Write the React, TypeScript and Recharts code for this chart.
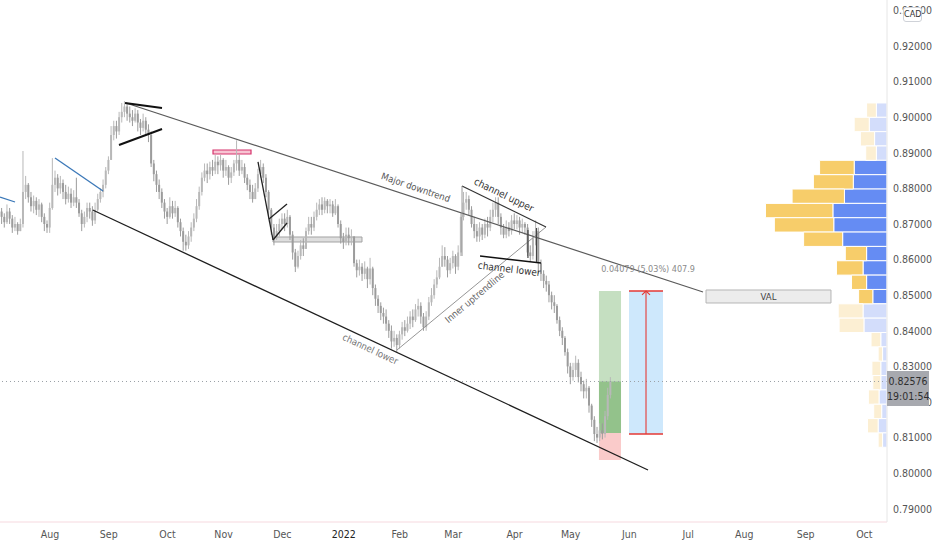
import React from "react";
import {
  ComposedChart,
  Bar,
  Scatter,
  XAxis,
  YAxis,
  ReferenceLine,
  ReferenceArea,
} from "recharts";

const FONT = "'Liberation Sans Narrow', 'DejaVu Sans Condensed', Roboto, sans-serif";

// daily bars, index 0 = 2 Aug 2021 (one step per trading day), prices x 10000
const firstBar = -18;
const firstOpen = 8735;
const closes = [
  // Jul
  8720, 8705, 8735, 8715, 8690, 8700, 8680, 8700, 8790, 8810, 8775, 8750, 8765, 8740, 8755, 8720, 8700, 8690,
  // Aug
  8745, 8810, 8830, 8800, 8815, 8790, 8770, 8785, 8760, 8775, 8760, 8730, 8700, 8720, 8745, 8735, 8710, 8740, 8770, 8790, 8810, 8850,
  // Sep
  8880, 8950, 8975, 8960, 9000, 9015, 9030, 9010, 9000, 8990, 9010, 8985, 8970, 8990, 8965, 8950, 8870, 8840, 8810, 8790, 8760, 8735,
  // Oct
  8720, 8750, 8730, 8745, 8705, 8680, 8650, 8640, 8665, 8690, 8715, 8750, 8790, 8830, 8850, 8840, 8860, 8850, 8875, 8865, 8880,
  // Nov
  8850, 8860, 8830, 8845, 8870, 8880, 8850, 8860, 8830, 8810, 8790, 8770, 8800, 8840, 8860, 8830, 8790, 8740, 8690, 8660, 8680, 8700,
  // Dec
  8715, 8700, 8720, 8670, 8620, 8580, 8610, 8640, 8630, 8680, 8700, 8690, 8720, 8740, 8755, 8740, 8765, 8750, 8755, 8730, 8750, 8700, 8660,
  // Jan
  8650, 8670, 8660, 8665, 8590, 8570, 8580, 8560, 8575, 8545, 8575, 8520, 8490, 8470, 8450, 8440, 8420, 8400, 8370, 8380, 8360,
  // Feb
  8390, 8410, 8400, 8420, 8440, 8430, 8460, 8470, 8440, 8410, 8440, 8480, 8500, 8530, 8550, 8580, 8610, 8600, 8570, 8590,
  // Mar
  8610, 8580, 8620, 8720, 8760, 8770, 8740, 8700, 8680, 8665, 8690, 8670, 8700, 8690, 8720, 8740, 8760, 8720, 8690, 8670, 8690, 8680, 8710,
  // Apr
  8700, 8710, 8690, 8700, 8690, 8620, 8610, 8660, 8680, 8590, 8560, 8540, 8530, 8500, 8480, 8470, 8430, 8400, 8380, 8340, 8300,
  // May
  8270, 8290, 8310, 8270, 8250, 8230, 8240, 8190, 8150, 8110, 8100, 8120, 8110, 8160, 8220, 8258,
];
const highs = [
  8745, 8730, 8755, 8745, 8725, 8720, 8705, 8715, 8905, 8835, 8815, 8790, 8780, 8775, 8770, 8760, 8730, 8710,
  8760, 8885, 8850, 8840, 8835, 8825, 8810, 8805, 8800, 8795, 8830, 8770, 8740, 8735, 8760, 8760, 8750, 8760, 8785, 8800, 8825, 8860,
  8890, 8975, 8990, 8990, 9015, 9040, 9045, 9040, 9030, 9020, 9025, 9020, 8995, 9010, 9000, 8980, 8960, 8880, 8850, 8825, 8800, 8770,
  8745, 8775, 8765, 8765, 8750, 8715, 8690, 8670, 8680, 8705, 8730, 8770, 8805, 8845, 8870, 8870, 8875, 8880, 8895, 8890, 8895,
  8885, 8880, 8865, 8860, 8880, 8935, 8895, 8880, 8870, 8840, 8825, 8810, 8815, 8855, 8880, 8870, 8840, 8795, 8745, 8700, 8700, 8715,
  8730, 8730, 8740, 8725, 8680, 8630, 8625, 8655, 8660, 8690, 8720, 8720, 8735, 8760, 8770, 8775, 8775, 8770, 8770, 8765, 8770, 8755, 8710,
  8675, 8690, 8690, 8685, 8665, 8600, 8600, 8590, 8595, 8580, 8605, 8580, 8530, 8500, 8480, 8465, 8460, 8430, 8415, 8400, 8390,
  8400, 8425, 8430, 8440, 8455, 8460, 8475, 8490, 8480, 8450, 8455, 8495, 8520, 8545, 8570, 8605, 8640, 8635, 8610, 8605,
  8625, 8615, 8640, 8730, 8790, 8790, 8780, 8750, 8720, 8700, 8705, 8700, 8715, 8720, 8740, 8760, 8775, 8775, 8730, 8700, 8710, 8705, 8725,
  8730, 8725, 8720, 8715, 8705, 8700, 8640, 8680, 8710, 8690, 8600, 8570, 8555, 8540, 8510, 8500, 8475, 8440, 8410, 8385, 8350,
  8310, 8310, 8330, 8320, 8285, 8260, 8265, 8245, 8195, 8160, 8130, 8140, 8140, 8175, 8240, 8270,
];
const lows = [
  8700, 8690, 8700, 8700, 8675, 8680, 8670, 8680, 8690, 8770, 8760, 8735, 8730, 8725, 8720, 8705, 8680, 8675,
  8675, 8740, 8790, 8780, 8785, 8770, 8755, 8760, 8745, 8750, 8745, 8720, 8680, 8690, 8705, 8715, 8695, 8700, 8735, 8760, 8775, 8800,
  8840, 8890, 8935, 8940, 8950, 8985, 9000, 8990, 8985, 8975, 8985, 8960, 8950, 8960, 8950, 8930, 8860, 8820, 8790, 8770, 8745, 8715,
  8700, 8715, 8715, 8720, 8690, 8665, 8625, 8625, 8630, 8650, 8680, 8705, 8740, 8780, 8820, 8815, 8825, 8835, 8840, 8840, 8850,
  8830, 8835, 8810, 8815, 8835, 8850, 8835, 8840, 8815, 8795, 8770, 8760, 8770, 8790, 8830, 8815, 8775, 8720, 8670, 8640, 8655, 8665,
  8685, 8680, 8690, 8655, 8600, 8565, 8575, 8600, 8610, 8640, 8670, 8670, 8680, 8710, 8725, 8725, 8730, 8730, 8730, 8720, 8725, 8690, 8645,
  8630, 8640, 8640, 8640, 8580, 8550, 8555, 8540, 8545, 8520, 8530, 8500, 8470, 8450, 8430, 8420, 8400, 8380, 8350, 8355, 8340,
  8350, 8375, 8385, 8395, 8405, 8410, 8425, 8440, 8420, 8400, 8400, 8430, 8470, 8490, 8520, 8545, 8580, 8580, 8550, 8560,
  8575, 8560, 8570, 8610, 8710, 8740, 8725, 8690, 8660, 8650, 8650, 8655, 8660, 8665, 8680, 8705, 8720, 8700, 8670, 8660, 8660, 8665, 8670,
  8685, 8685, 8670, 8675, 8670, 8610, 8595, 8600, 8640, 8560, 8540, 8520, 8510, 8480, 8460, 8450, 8420, 8385, 8360, 8330, 8280,
  8250, 8260, 8270, 8255, 8230, 8210, 8210, 8170, 8130, 8090, 8085, 8090, 8095, 8100, 8150, 8210,
];

const monthTicks = [0, 22, 44, 65, 87, 110, 131, 151, 174, 195, 217, 239, 260, 283, 305];
const monthLabels = ["Aug", "Sep", "Oct", "Nov", "Dec", "2022", "Feb", "Mar", "Apr", "May", "Jun", "Jul", "Aug", "Sep", "Oct"];
const priceTicks = [0.79, 0.8, 0.81, 0.82, 0.83, 0.84, 0.85, 0.86, 0.87, 0.88, 0.89, 0.9, 0.91, 0.92, 0.93];
const lastPrice = 0.82576;
const lastTime = "19:01:54";

// visible range volume profile, rows from the top
const vpTop = 0.904;
const vpRow = 0.00403;
const vpUp = [12, 20, 14, 12, 37, 38, 48, 61, 60, 50, 23, 27, 23, 16, 27, 26, 7, 5, 7, 7, 9, 6, 10, 5];
const vpDown = [11, 17, 16, 12, 39, 45, 59, 76, 67, 44, 24, 30, 17, 16, 28, 28, 11, 5, 10, 9, 12, 9, 12, 5];
const vpValueArea = [4, 13];

// long position + price range tool
const entry = 0.81129;
const target = 0.85118;
const stop = 0.80371;
const rangeLow = 0.81101;
const rangeHigh = 0.85118;

const X_MIN = -18.73;
const X_MAX = 313.48;
const Y_MIN = 0.78629;
const Y_MAX = 0.93292;
const PLOT_H = 522;

const candles = closes.map((c, k) => {
  const o = k === 0 ? firstOpen : closes[k - 1];
  const h = Math.max(highs[k] ?? c, o, c);
  const l = Math.min(lows[k] ?? c, o, c);
  return { i: firstBar + k, o: o / 1e4, h: h / 1e4, l: l / 1e4, c: c / 1e4 };
});

// hand drawn lines, in bar index / price
const drawings = [
  { a: [28.46, 0.90399], b: [244.57, 0.8509], stroke: "#5a5a5a", w: 1.2 },
  { a: [15.99, 0.87393], b: [223.97, 0.8009], stroke: "#1e1e1e", w: 1.3 },
  { a: [-18.7, 0.87758], b: [-13.1, 0.87618], stroke: "#3b78b8", w: 1.3 },
  { a: [1.87, 0.88854], b: [19.85, 0.87927], stroke: "#3b78b8", w: 1.3 },
  { a: [28.09, 0.90399], b: [41.95, 0.90258], stroke: "#111", w: 2 },
  { a: [25.84, 0.89219], b: [41.95, 0.89669], stroke: "#111", w: 2 },
  { a: [77.9, 0.88742], b: [83.52, 0.86551], stroke: "#222", w: 1.3 },
  { a: [82.02, 0.8714], b: [88.76, 0.87562], stroke: "#222", w: 1.3 },
  { a: [83.52, 0.86551], b: [88.76, 0.87028], stroke: "#222", w: 1.3 },
  { a: [129.96, 0.83461], b: [185.77, 0.86916], stroke: "#8a8a8a", w: 0.9 },
  { a: [154.31, 0.88067], b: [185.77, 0.86916], stroke: "#333", w: 1.2 },
  { a: [161.05, 0.86101], b: [183.9, 0.85904], stroke: "#111", w: 1.5 },
  { a: [154.31, 0.88067], b: [154.31, 0.86101], stroke: "#8a8a8a", w: 0.9 },
  { a: [179.0, 0.86831], b: [179.0, 0.86045], stroke: "#444", w: 1.2 },
  { a: [182.2, 0.86888], b: [182.2, 0.85933], stroke: "#444", w: 1.2 },
  { a: [216.85, rangeHigh], b: [229.59, rangeHigh], stroke: "#e53935", w: 1.3 },
  { a: [216.85, rangeLow], b: [229.59, rangeLow], stroke: "#e53935", w: 1.3 },
  { a: [223.22, rangeLow], b: [223.22, rangeHigh], stroke: "#e53935", w: 1.1 },
  { a: [223.22, rangeHigh], b: [221.72, 0.85006], stroke: "#e53935", w: 1.1 },
  { a: [223.22, rangeHigh], b: [224.72, 0.85006], stroke: "#e53935", w: 1.1 },
];

const notes = [
  { i: 137, p: 0.8803, text: "Major downtrend", angle: 19, color: "#555", size: 9.5 },
  { i: 170, p: 0.8782, text: "channel upper", angle: 26, color: "#333", size: 10 },
  { i: 172, p: 0.85736, text: "channel lower", angle: 7, color: "#333", size: 10 },
  { i: 159, p: 0.84949, text: "Inner uptrendline", angle: -40, color: "#666", size: 9.5 },
  { i: 120, p: 0.83489, text: "channel lower", angle: 25, color: "#777", size: 9.5 },
  { i: 224, p: 0.85736, text: "0.04079 (5.03%) 407.9", angle: 0, color: "#8a8a8a", size: 9 },
];

const Candle = (props: any) => {
  const { x, y, width, height, payload } = props;
  const { o, h, l, c } = payload;
  const span = h - l || 1e-9;
  const py = (v: number) => y + ((h - v) / span) * height;
  const cx = x + width / 2;
  const top = py(Math.max(o, c));
  const bot = py(Math.min(o, c));
  const col = c >= o ? "#b8b8b8" : "#9c9c9c";
  return (
    <g>
      <line x1={cx} x2={cx} y1={y} y2={y + height} stroke={col} strokeWidth={1} />
      <rect x={cx - 1} y={top} width={2} height={Math.max(bot - top, 0.8)} fill={col} />
    </g>
  );
};

const NoteText = (props: any) => {
  const { cx, cy, payload } = props;
  return (
    <text
      x={cx}
      y={cy}
      textAnchor="middle"
      dominantBaseline="central"
      fontSize={payload.size}
      fill={payload.color}
      fontFamily={FONT}
      transform={`rotate(${payload.angle} ${cx} ${cy})`}
    >
      {payload.text}
    </text>
  );
};

const MonthTick = (props: any) => {
  const { x, y, payload } = props;
  const label = monthLabels[monthTicks.indexOf(payload.value)] ?? "";
  const year = /^\d{4}$/.test(label);
  return (
    <text x={x} y={y} dy={8} textAnchor="middle" fontSize={10.5} fontFamily={FONT} fill={year ? "#222" : "#555"}>
      {label}
    </text>
  );
};

export default function App() {
  const tagY = (PLOT_H * (Y_MAX - lastPrice)) / (Y_MAX - Y_MIN);
  return (
    <div style={{ position: "relative", width: 932, height: 550, background: "#fff" }}>
      <style>{"body{margin:0}"}</style>
      <ComposedChart width={932} height={550} data={candles} margin={{ top: 0, right: 0, bottom: 0, left: 0 }}>
        <XAxis
          dataKey="i"
          type="number"
          domain={[X_MIN, X_MAX]}
          allowDataOverflow
          ticks={monthTicks}
          interval={0}
          tick={<MonthTick />}
          tickLine={false}
          tickSize={0}
          tickMargin={8}
          axisLine={{ stroke: "#f6d9df" }}
          height={28}
        />
        <XAxis xAxisId="vp" dataKey="vpv" type="number" domain={[0, 1000]} allowDataOverflow reversed hide />
        <YAxis
          orientation="right"
          type="number"
          domain={[Y_MIN, Y_MAX]}
          allowDataOverflow
          ticks={priceTicks}
          interval={0}
          tickFormatter={(v: number) => v.toFixed(5)}
          tick={{ fontSize: 10.5, fill: "#555", fontFamily: FONT }}
          tickLine={false}
          tickSize={0}
          tickMargin={6}
          axisLine={{ stroke: "#e6e6e6" }}
          width={45}
        />

        {vpUp.map((u, k) => {
          const hi = vpTop - k * vpRow;
          const inVA = k >= vpValueArea[0] && k <= vpValueArea[1];
          return (
            <ReferenceArea
              key={`u${k}`}
              xAxisId="vp"
              x1={0}
              x2={u}
              y1={hi - vpRow}
              y2={hi}
              fill={inVA ? "#658cf3" : "#d3ddfb"}
              fillOpacity={1}
              stroke="#fff"
              strokeWidth={1}
            />
          );
        })}
        {vpDown.map((d, k) => {
          const hi = vpTop - k * vpRow;
          const inVA = k >= vpValueArea[0] && k <= vpValueArea[1];
          return (
            <ReferenceArea
              key={`d${k}`}
              xAxisId="vp"
              x1={vpUp[k]}
              x2={vpUp[k] + d}
              y1={hi - vpRow}
              y2={hi}
              fill={inVA ? "#f7cd6a" : "#fcefd3"}
              fillOpacity={1}
              stroke="#fff"
              strokeWidth={1}
            />
          );
        })}

        <ReferenceArea
          x1={245.7}
          x2={292.5}
          y1={0.84781}
          y2={0.85146}
          fill="#ececec"
          fillOpacity={1}
          stroke="#b5b5b5"
          label={{ value: "VAL", position: "center", fontSize: 9.5, fill: "#444", fontFamily: FONT }}
        />
        <ReferenceArea x1={61.05} x2={75.28} y1={0.88966} y2={0.89079} fill="#f7c4d2" fillOpacity={1} stroke="#d6336c" strokeWidth={1.2} />
        <ReferenceArea x1={83.52} x2={116.85} y1={0.86494} y2={0.86635} fill="#dedede" fillOpacity={1} stroke="#a3a3a3" strokeWidth={1} />
        <ReferenceArea x1={205.6} x2={213.86} y1={entry} y2={target} fill="#4c9a3f" fillOpacity={0.32} stroke="none" />
        <ReferenceArea x1={205.6} x2={213.86} y1={entry} y2={lastPrice} fill="#4c9a3f" fillOpacity={0.41} stroke="none" />
        <ReferenceArea x1={205.6} x2={213.86} y1={stop} y2={entry} fill="#ef5350" fillOpacity={0.3} stroke="none" />
        <ReferenceArea x1={216.85} x2={229.59} y1={rangeLow} y2={rangeHigh} fill="#2196f3" fillOpacity={0.22} stroke="none" />

        <ReferenceLine y={lastPrice} stroke="#9aa0a6" strokeDasharray="1 3" />

        <Bar dataKey={(d: any) => [d.l, d.h]} barSize={2} shape={<Candle />} isAnimationActive={false} />

        {drawings.map((ln, k) => (
          <ReferenceLine
            key={`ln${k}`}
            segment={[
              { x: ln.a[0], y: ln.a[1] },
              { x: ln.b[0], y: ln.b[1] },
            ]}
            stroke={ln.stroke}
            strokeWidth={ln.w}
            ifOverflow="visible"
          />
        ))}

        <Scatter data={notes} dataKey="p" shape={<NoteText />} isAnimationActive={false} />
      </ComposedChart>

      {/* last price tag on the price scale */}
      <div
        style={{
          position: "absolute",
          left: 887,
          top: tagY - 10,
          width: 42,
          height: 35,
          background: "#a7a9af",
          fontFamily: FONT,
          fontSize: 10.5,
          lineHeight: "15px",
          paddingTop: 3,
          boxSizing: "border-box",
          textAlign: "center",
          color: "#2f2f2f",
        }}
      >
        <div>{lastPrice.toFixed(5)}</div>
        <div>{lastTime}</div>
      </div>
      <div
        style={{
          position: "absolute",
          left: 903,
          top: 7,
          width: 19,
          height: 15,
          boxSizing: "border-box",
          border: "1px solid #cfd2d8",
          borderRadius: 3,
          background: "#fff",
          fontFamily: FONT,
          fontSize: 9,
          lineHeight: "13px",
          textAlign: "center",
          color: "#333",
        }}
      >
        CAD
      </div>
    </div>
  );
}
